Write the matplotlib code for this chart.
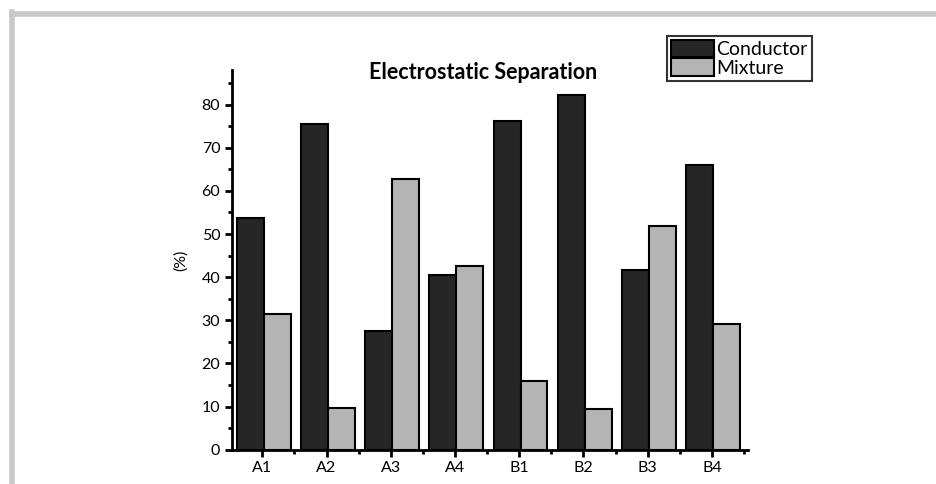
import matplotlib
matplotlib.use("Agg")
import matplotlib.pyplot as plt
from matplotlib.lines import Line2D
from matplotlib.ticker import MultipleLocator
import numpy as np

plt.rcParams['font.family'] = ['Lato', 'DejaVu Sans']

samples = ['A1', 'A2', 'A3', 'A4', 'B1', 'B2', 'B3', 'B4']
conductor = [53.8, 75.5, 27.6, 40.5, 76.2, 82.2, 41.7, 66.0]
mixture = [31.5, 9.6, 62.7, 42.7, 16.0, 9.5, 51.8, 29.1]

fig = plt.figure(figsize=(9.36, 4.84), dpi=100)
ax = fig.add_axes([0.248, 0.071, 0.551, 0.784])

x = np.arange(len(samples))
w = 0.42
ax.bar(x - w / 2 + 0.02, conductor, w, color='#262626', edgecolor='black',
       linewidth=1.5, label='Conductor')
ax.bar(x + w / 2 + 0.02, mixture, w, color='#b4b4b4', edgecolor='black',
       linewidth=1.5, label='Mixture')

ax.set_xlim(-0.47, 7.56)
ax.set_ylim(0, 88)
ax.set_xticks(x)
ax.set_xticklabels(samples)
ax.xaxis.set_minor_locator(MultipleLocator(1, offset=0.5))
ax.yaxis.set_major_locator(MultipleLocator(10))
ax.yaxis.set_minor_locator(MultipleLocator(5))
ax.set_yticks(range(0, 90, 10))

for s in ['top', 'right']:
    ax.spines[s].set_visible(False)
for s in ['left', 'bottom']:
    ax.spines[s].set_linewidth(2)
ax.tick_params(which='major', direction='out', length=5, width=2, labelsize=11.5)
ax.tick_params(which='minor', direction='out', length=3, width=2)
ax.set_ylabel('(%)', fontsize=11.5, labelpad=10)

fig.text(0.516, 0.850, 'Electrostatic Separation', ha='center', va='center',
         fontsize=15.5, fontweight='bold')

leg = ax.legend(loc='upper left', bbox_to_anchor=(667 / 936, 1 - 36 / 484),
                bbox_transform=fig.transFigure, fontsize=14, frameon=True,
                fancybox=False, handlelength=2.2, handleheight=1.0,
                handletextpad=0.15, borderpad=0.2, labelspacing=0.0,
                borderaxespad=0)
leg.get_frame().set_edgecolor('black')
leg.get_frame().set_linewidth(1.5)

# gray frame around the picture
fig.add_artist(Line2D([12 / 936, 1], [1 - 14 / 484, 1 - 14 / 484],
                      color='#c8c8c8', linewidth=4, transform=fig.transFigure))
fig.add_artist(Line2D([12 / 936, 12 / 936], [0, 1 - 12 / 484],
                      color='#c8c8c8', linewidth=4, transform=fig.transFigure))

fig.savefig('out.png', dpi=100)
